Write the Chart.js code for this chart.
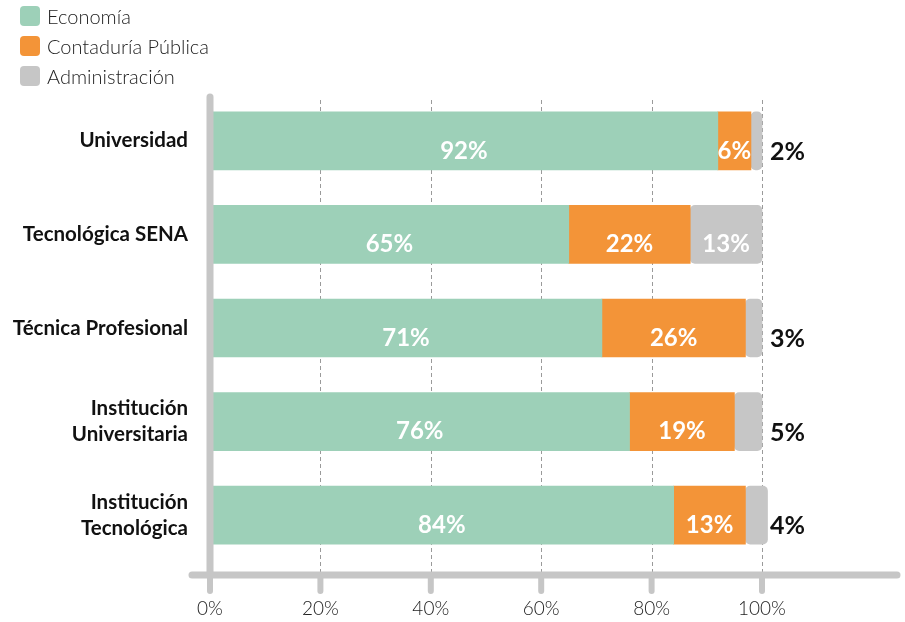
<!DOCTYPE html>
<html>
<head>
<meta charset="utf-8">
<script src="https://cdn.jsdelivr.net/npm/chart.js@4.4.1/dist/chart.umd.min.js"></script>
<style>
    body{margin:0;background:#fff;font-family:Lato, sans-serif;}
    #wrap{position:relative;width:905px;height:622px;}
    #legend{position:absolute;left:20px;top:1px;}
    .item{height:30px;display:flex;align-items:center;font-size:20px;font-weight:300;color:#222;}
    .box{width:20px;height:20px;border-radius:4px;margin-right:7px;}
</style>
</head>
<body>
<div id="wrap">
    <div id="legend"></div>
    <canvas id="chart" width="905" height="622"></canvas>
</div>
<script>
const categories = ['Universidad', 'Tecnológica SENA', 'Técnica Profesional', ['Institución','Universitaria'], ['Institución','Tecnológica']];
const seriesNames = ['Economía', 'Contaduría Pública', 'Administración'];
const economia = [92, 65, 71, 76, 84];
const contaduria = [6, 22, 26, 19, 13];
const administracion = [2, 13, 3, 5, 4];
const tickValues = [0, 20, 40, 60, 80, 100];

const colors = ['#9dd0b8', '#f39438', '#c6c6c6'];
const axisGray = '#c6c6c6';

// legend as plain html
const legendEl = document.getElementById('legend');
seriesNames.forEach((name, i) => {
    const div = document.createElement('div');
    div.className = 'item';
    div.innerHTML = `<span class="box" style="background:${colors[i]}"></span>${name}`;
    legendEl.appendChild(div);
});

// axes, ticks and dashed grid drawn by hand so they can have round caps
const axisPlugin = {
    id: 'axisPlugin',
    beforeDatasetsDraw(chart){
        const {ctx, chartArea, scales:{x}} = chart;
        const axisY = chartArea.bottom + 13;
        ctx.save();
        ctx.strokeStyle = '#9a9a9a';
        ctx.lineWidth = 1;
        ctx.setLineDash([4, 3]);
        tickValues.slice(1).forEach(v => {
            const px = Math.round(x.getPixelForValue(v)) + 0.5;
            ctx.beginPath();
            ctx.moveTo(px, chartArea.top + 6);
            ctx.lineTo(px, axisY);
            ctx.stroke();
        });
        ctx.restore();
    },
    afterDatasetsDraw(chart){
        const {ctx, chartArea, scales:{x}} = chart;
        const axisY = chartArea.bottom + 13;
        const x0 = x.getPixelForValue(0);
        ctx.save();
        ctx.strokeStyle = axisGray;
        ctx.lineCap = 'round';
        ctx.lineWidth = 6;
        tickValues.forEach(v => {
            const px = x.getPixelForValue(v);
            ctx.beginPath();
            ctx.moveTo(px, axisY);
            ctx.lineTo(px, axisY + 16);
            ctx.stroke();
        });
        ctx.lineWidth = 7;
        ctx.beginPath();
        ctx.moveTo(x0, chartArea.top + 3);
        ctx.lineTo(x0, axisY);
        ctx.stroke();
        ctx.beginPath();
        ctx.moveTo(x0 - 18, axisY);
        ctx.lineTo(chartArea.right - 3, axisY);
        ctx.stroke();
        ctx.restore();
    }
};

// value labels
const labelPlugin = {
    id: 'labelPlugin',
    afterDatasetsDraw(chart){
        const {ctx} = chart;
        const end = chart.scales.x.getPixelForValue(100);
        ctx.save();
        ctx.textBaseline = 'middle';
        chart.data.datasets.forEach((ds, di) => {
            const meta = chart.getDatasetMeta(di);
            meta.data.forEach((bar, i) => {
                const {x, base, y} = bar.getProps(['x', 'base', 'y'], true);
                const txt = ds.data[i] + '%';
                const w = x - base;
                if(w < 30){
                    ctx.font = 'bold 25px Lato';
                    ctx.fillStyle = '#111';
                    ctx.textAlign = 'left';
                    ctx.fillText(txt, end + 8, y + 11);
                } else {
                    ctx.font = 'bold 24px Lato';
                    ctx.fillStyle = '#fff';
                    ctx.textAlign = 'center';
                    ctx.fillText(txt, (x + base) / 2, y + 10);
                }
            });
        });
        ctx.restore();
    }
};

const r = 5;
new Chart(document.getElementById('chart'), {
    type: 'bar',
    data: {
        labels: categories,
        datasets: [
            {label: seriesNames[0], data: economia, backgroundColor: colors[0]},
            {label: seriesNames[1], data: contaduria, backgroundColor: colors[1]},
            {label: seriesNames[2], data: administracion, backgroundColor: colors[2],
             borderSkipped: false,
             borderRadius: {topLeft: r, topRight: r, bottomLeft: r, bottomRight: r}}
        ]
    },
    options: {
        indexAxis: 'y',
        responsive: false,
        animation: false,
        barThickness: 58,
        layout: {padding: {top: 94, right: 5, bottom: 0, left: 0}},
        plugins: {legend: {display: false}, tooltip: {enabled: false}},
        scales: {
            x: {
                stacked: true,
                min: 0,
                max: 125,
                afterBuildTicks: s => { s.ticks = tickValues.map(v => ({value: v})); },
                afterFit: s => { s.height = 60; },
                grid: {display: false, drawTicks: false},
                border: {display: false},
                ticks: {
                    padding: 35,
                    color: '#222',
                    font: {family: 'Lato', size: 19, weight: '300'},
                    callback: v => v + '%'
                }
            },
            y: {
                stacked: true,
                afterFit: s => { s.width = 210; },
                grid: {display: false, drawTicks: false},
                border: {display: false},
                ticks: {
                    padding: 22,
                    color: '#111',
                    font: {family: 'Lato', size: 20.5, weight: 'bold', lineHeight: 1.25}
                }
            }
        }
    },
    plugins: [axisPlugin, labelPlugin]
});
</script>
</body>
</html>
